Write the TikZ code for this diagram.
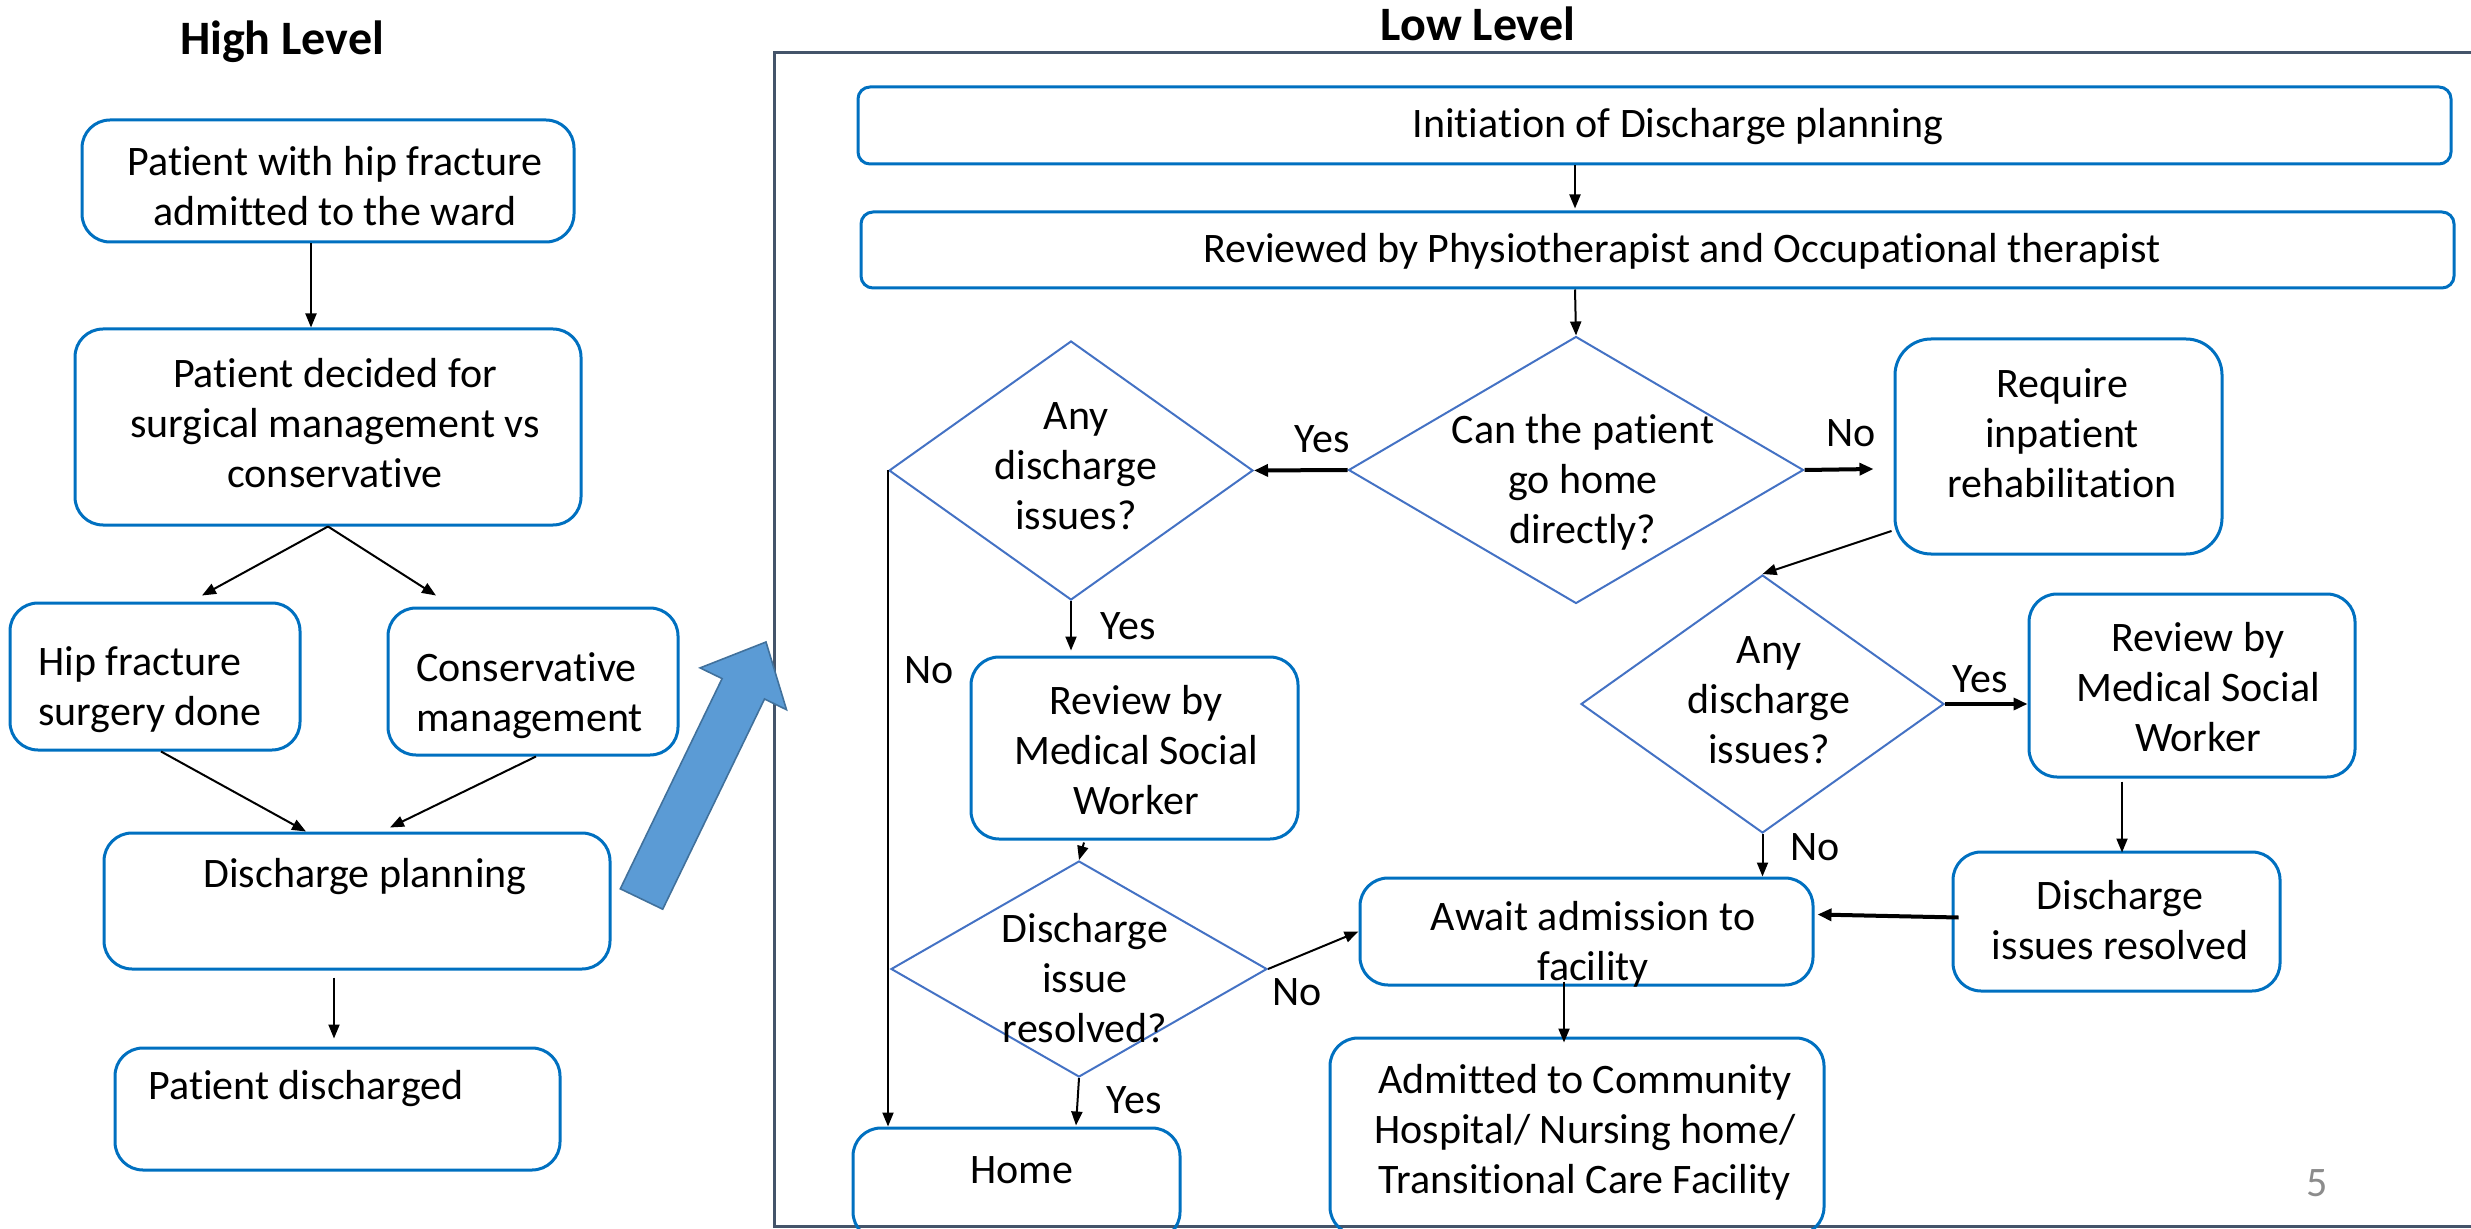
\documentclass[tikz,border=0pt]{standalone}
\usepackage{fontspec}
\setmainfont{Carlito}[Ligatures={NoCommon}]
\usetikzlibrary{shapes.geometric,arrows.meta,calc}
\definecolor{boxblue}{HTML}{0070C0}
\definecolor{dmdblue}{HTML}{4472C4}
\definecolor{framecol}{HTML}{44546A}
\definecolor{bigfill}{HTML}{5B9BD5}
\definecolor{bigline}{HTML}{41719C}
\definecolor{pagegray}{HTML}{8C8C8C}
\begin{document}
\begin{tikzpicture}[x=0.5pt,y=-0.5pt,
  font=\fontsize{21pt}{25pt}\selectfont,
  box/.style={draw=boxblue,line width=1.5pt,rounded corners=14pt,inner sep=0pt},
  flatbox/.style={box,rounded corners=6pt},
  dmd/.style={draw=dmdblue,line width=1pt,diamond,inner sep=0pt},
  txt/.style={align=center,inner sep=0pt},
  ltxt/.style={align=left,inner sep=0pt,anchor=west},
  lbl/.style={inner sep=0pt},
  title/.style={inner sep=0pt,font=\fontsize{24pt}{28pt}\selectfont\bfseries},
  arr/.style={-{Triangle[length=7pt,width=5.5pt]},line width=1pt},
  tarr/.style={-{Triangle[length=7pt,width=6pt]},line width=2pt}]
\useasboundingbox (0,0) rectangle (2471,1229);

% ---------- titles ----------
\node[title] (tHigh) at (282,42) {High Level};
\node[title] (tLow) at (1478,24) {Low Level};

% ---------- frame of the detailed flow ----------
\draw[framecol,line width=1.5pt] (2480,53) -- (774,53) -- (774,1226) -- (2480,1226);

% ---------- high level flow ----------
\node[box,minimum width=246pt,minimum height=61pt] (b1) at (328,181) {};
\node[txt] (b1t) at (335,186) {Patient with hip fracture\\admitted to the ward};
\node[box,minimum width=253pt,minimum height=98pt] (b2) at (328,427) {};
\node[txt] (b2t) at (335,423) {Patient decided for\\surgical management vs\\conservative};
\node[box,minimum width=145pt,minimum height=73.5pt] (b3) at (155,676.5) {};
\node[ltxt] (b3t) at (38,690) {Hip fracture\\surgery done};
\node[box,minimum width=145pt,minimum height=73.5pt] (b4) at (533,681.5) {};
\node[ltxt] (b4t) at (416,696) {Conservative\\management};
\node[box,minimum width=253pt,minimum height=68pt] (dp) at (357,901) {};
\node[txt] (dpt) at (365,877) {Discharge planning};
\node[box,minimum width=222.5pt,minimum height=61pt] (pd) at (337.5,1109) {};
\node[txt] (pdt) at (306,1089) {Patient discharged};

\draw[arr] ($(b1.south)+(-17,0)$) -- ($(b2.north)+(-17,0)$);
\draw[arr] (b2.south) -- ($(b3.north)+(47,-6)$);
\draw[arr] (b2.south) -- ($(b4.north)+(-97,-11)$);
\draw[arr] ($(b3.south)+(6,0)$) -- ($(dp.north)+(-51,0)$);
\draw[arr] ($(b4.south)+(3,0)$) -- ($(dp.north)+(33,-4)$);
\draw[arr] ($(dp.south)+(-23,7)$) -- ($(pd.north)+(-3.5,-8)$);

% ---------- big block arrow ----------
\fill[bigfill,draw=bigline,line width=0.8pt]
  (620.3,888.8) -- (722.1,678.6) -- (700.1,667.9) -- (766,642)
  -- (786.5,709.7) -- (764.5,699.0) -- (662.7,909.2) -- cycle;

% ---------- low level flow ----------
\node[flatbox,minimum width=796.5pt,minimum height=38.5pt] (init) at (1654.5,125.5) {};
\node[txt] (initt) at (1678,127) {Initiation of Discharge planning};
\node[flatbox,minimum width=796.5pt,minimum height=38pt] (rev) at (1657.5,250) {};
\node[txt] (revt) at (1682,251) {Reviewed by Physiotherapist and Occupational therapist};

\node[dmd,minimum width=227.5pt,minimum height=133.5pt] (d1) at (1576,470) {};
\node[txt] (d1t) at (1583,482) {Can the patient\\go home\\directly?};
\node[dmd,minimum width=182pt,minimum height=129.5pt] (d2) at (1071,470.5) {};
\node[txt] (d2t) at (1076,466) {Any\\discharge\\issues?};
\node[box,minimum width=163.5pt,minimum height=107.5pt,rounded corners=18pt] (req) at (2058.5,446.5) {};
\node[txt] (reqt) at (2062,433) {Require\\inpatient\\rehabilitation};

\node[box,minimum width=163.5pt,minimum height=91pt] (msw1) at (1134.5,748) {};
\node[txt] (msw1t) at (1136,750) {Review by\\Medical Social\\Worker};
\node[dmd,minimum width=188pt,minimum height=108pt] (d3) at (1079,969) {};
\node[txt] (d3t) at (1085,978) {Discharge\\issue\\resolved?};
\node[box,minimum width=163.5pt,minimum height=56pt] (home) at (1016.5,1184) {};
\node[txt] (homet) at (1022,1170) {Home};

\node[dmd,minimum width=181.5pt,minimum height=129pt] (d4) at (1762.5,704) {};
\node[txt] (d4t) at (1769,700) {Any\\discharge\\issues?};
\node[box,minimum width=163pt,minimum height=91.5pt] (msw2) at (2192,685.5) {};
\node[txt] (msw2t) at (2198,687) {Review by\\Medical Social\\Worker};
\node[box,minimum width=163.5pt,minimum height=69.5pt] (dir) at (2116.5,921.5) {};
\node[txt] (dirt) at (2120,920) {Discharge\\issues resolved};
\node[box,minimum width=226.5pt,minimum height=53.5pt] (await) at (1586.5,931.5) {};
\node[txt] (awaitt) at (1593,944) {Await admission to\\facility};
\node[box,minimum width=247pt,minimum height=98.5pt] (adm) at (1577,1136.5) {};
\node[txt] (admt) at (1585,1132) {Admitted to Community\\Hospital/ Nursing home/\\Transitional Care Facility};

% connectors
\draw[arr] ($(init.south)+(-79.5,0)$) -- ($(rev.north)+(-82.5,-2)$);
\draw[arr] ($(rev.south)+(-82.5,0)$) -- (d1.north);
\draw[tarr] (d1.west) -- (d2.east);
\draw[tarr] (d1.east) -- ($(req.west)+(-20,22.5)$);
\draw[arr] ($(req.west)+(-2,84.5)$) -- (d4.north);
\draw[arr] (d2.south) -- ($(msw1.north)+(-63.5,-5)$);
\draw[arr] ($(msw1.south)+(-50.5,2)$) -- (d3.north);
\draw[arr] (d3.east) -- (await.west);
\draw[arr] (d3.south) -- ($(home.north)+(59.5,-1)$);
\draw[arr] (d2.west) -- (d2.west |- home.north);
\draw[tarr] (d4.east) -- (d4.east -| msw2.west);
\draw[arr] (d4.south) -- (d4.south |- await.north);
\draw[arr] ($(msw2.south)+(-70,3)$) -- ($(dir.north)+(5.5,2)$);
\draw[tarr] ($(dir.west)+(7,-4)$) -- ($(await.east)+(3,-17)$);
\draw[arr] ($(await.south)+(-22.5,-5)$) -- ($(adm.north)+(-13,6)$);

% branch labels
\node[lbl] (lY1) at (1322,439) {Yes};
\node[lbl] (lN1) at (1851,433) {No};
\node[lbl] (lY2) at (1128,626) {Yes};
\node[lbl] (lN2) at (929,670) {No};
\node[lbl] (lN3) at (1297,992) {No};
\node[lbl] (lY3) at (1134,1100) {Yes};
\node[lbl] (lY4) at (1980,679) {Yes};
\node[lbl] (lN4) at (1815,847) {No};

% page number
\node[lbl,text=pagegray] (pg) at (2317,1183) {5};
\end{tikzpicture}
\end{document}
